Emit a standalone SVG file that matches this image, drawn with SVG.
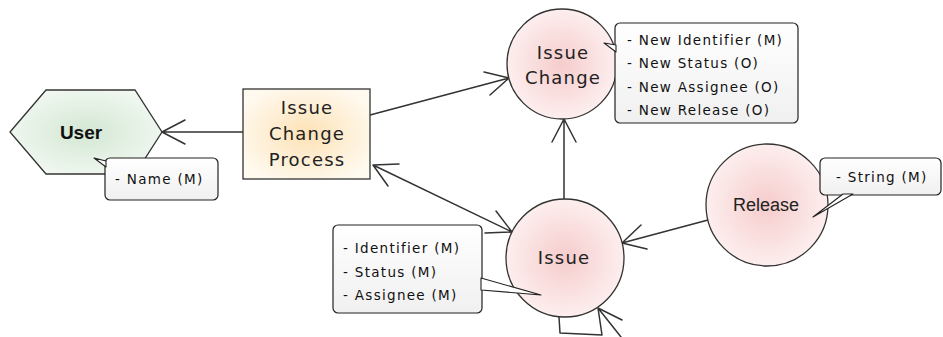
<svg xmlns="http://www.w3.org/2000/svg" width="943" height="337" viewBox="0 0 943 337">
<defs>
<radialGradient id="gPink" cx="50%" cy="50%" r="50%"><stop offset="0%" stop-color="#f6cccc"/><stop offset="100%" stop-color="#fdeeee"/></radialGradient>
<radialGradient id="gYel" cx="50%" cy="50%" r="60%"><stop offset="0%" stop-color="#fde2b6"/><stop offset="100%" stop-color="#fffaf0"/></radialGradient>
<radialGradient id="gGrn" cx="50%" cy="50%" r="55%"><stop offset="0%" stop-color="#d3e7d3"/><stop offset="100%" stop-color="#f1f8f1"/></radialGradient>
<linearGradient id="gNote" x1="0" y1="0" x2="0" y2="1"><stop offset="0%" stop-color="#ffffff"/><stop offset="100%" stop-color="#f0f0f0"/></linearGradient>
</defs>
<style>
.node{stroke:#333;stroke-width:1.3}
.note{fill:url(#gNote);stroke:#222;stroke-width:1.2}
.tail{fill:#fff;stroke:#222;stroke-width:1.1;stroke-linejoin:round}
.lbl{font-family:"DejaVu Sans",Verdana,sans-serif;font-size:18px;letter-spacing:1.2px;fill:#222;text-anchor:middle}
.nt{font-family:"DejaVu Sans",Verdana,sans-serif;font-size:13.5px;letter-spacing:1.3px;fill:#111}
.ln{fill:none;stroke:#333;stroke-width:1.5;stroke-linecap:round;stroke-linejoin:round}
</style>
<rect width="943" height="337" fill="#fff"/>

<g id="connectors">
<path class="ln" d="M243,132 L162,132 M185,120 L162,132 L185,144"/>
<path class="ln" d="M370,115 L509,78 M484,72 L509,78 L490,95"/>
<path class="ln" d="M373,165 L512,232 M496,211 L512,232 L485,233 M388,186 L373,165 L399,164"/>
<path class="ln" d="M564,199 L564,119 M552,142 L564,119 L576,142"/>
<path class="ln" d="M708,220 L622,243 M647,249 L622,243 L641,225"/>
<path class="ln" d="M559,317 L560,333 L602,335 L598,308 M622,320 L598,308 L621,337"/>
</g>

<g id="user">
<polygon class="node" fill="url(#gGrn)" points="10,132 46,90 135,90 162,132 135,174 46,174"/>
<text x="81" y="139" font-family="'Liberation Sans',Arial,sans-serif" font-size="19" font-weight="bold" fill="#111" text-anchor="middle">User</text>
</g>

<g id="user-note">
<rect class="note" x="105" y="158" width="113" height="42" rx="5"/>
<polygon class="tail" points="94,158 106,161 106,167"/>
<text class="nt" x="115" y="184">- Name (M)</text>
</g>

<g id="issue-change-process">
<rect class="node" fill="url(#gYel)" x="243" y="89" width="127" height="90"/>
<text class="lbl" x="307" y="114">Issue</text>
<text class="lbl" x="307" y="140">Change</text>
<text class="lbl" x="307" y="166">Process</text>
</g>

<g id="issue-change">
<circle class="node" fill="url(#gPink)" cx="562" cy="64" r="55"/>
<text class="lbl" x="563" y="59">Issue</text>
<text class="lbl" x="563" y="84">Change</text>
</g>

<g id="issue-change-note">
<rect class="note" x="615" y="23" width="183" height="100" rx="5"/>
<polygon class="tail" points="604,43 616,45 616,52"/>
<text class="nt" x="627" y="45">- New Identifier (M)</text>
<text class="nt" x="627" y="68">- New Status (O)</text>
<text class="nt" x="627" y="92">- New Assignee (O)</text>
<text class="nt" x="627" y="115">- New Release (O)</text>
</g>

<g id="issue">
<circle class="node" fill="url(#gPink)" cx="565" cy="258" r="59"/>
<text class="lbl" x="564" y="264">Issue</text>
</g>

<g id="issue-note">
<rect class="note" x="333" y="225" width="149" height="88" rx="5"/>
<polygon class="tail" points="541,295 481,278 481,290"/>
<text class="nt" x="343" y="253">- Identifier (M)</text>
<text class="nt" x="343" y="277">- Status (M)</text>
<text class="nt" x="343" y="300">- Assignee (M)</text>
</g>

<g id="release">
<circle class="node" fill="url(#gPink)" cx="767" cy="205" r="61"/>
<text x="766" y="211" font-family="'Liberation Sans',Arial,sans-serif" font-size="18" fill="#222" text-anchor="middle">Release</text>
</g>

<g id="release-note">
<rect class="note" x="820" y="158" width="121" height="37" rx="5"/>
<polygon class="tail" points="813,217 843,194 853,194"/>
<text class="nt" x="836" y="182">- String (M)</text>
</g>
</svg>
